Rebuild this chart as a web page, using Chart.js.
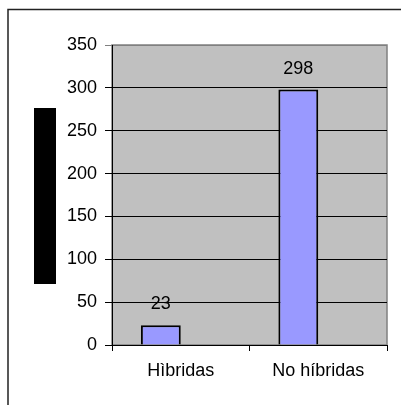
<!DOCTYPE html>
<html>
<head>
<meta charset="utf-8">
<script src="https://cdn.jsdelivr.net/npm/chart.js@4"></script>
<style>
	body { margin: 0; background: #fff; }
	canvas { display: block; }
</style>
</head>
<body>
<canvas id="bar-area" width="401" height="405"></canvas>
<script>
var categories = ['Hìbridas', 'No híbridas'];
var values = [23, 298];
var empty_series = [null, null];
var y_ticks = [0, 50, 100, 150, 200, 250, 300, 350];

var fontFamily = '"Liberation Sans", Arial, sans-serif';

// fondo gris, marco exterior y caja negra del titulo
var background_plugin = {
	id: 'background_plugin',
	beforeDraw: function(chart) {
		var ctx = chart.ctx;
		var a = chart.chartArea;
		ctx.save();
		ctx.fillStyle = '#fff';
		ctx.fillRect(0, 0, chart.width, chart.height);

		ctx.strokeStyle = '#222';
		ctx.lineWidth = 1.5;
		ctx.beginPath();
		ctx.moveTo(8, chart.height);
		ctx.lineTo(8, 9.5);
		ctx.lineTo(chart.width, 9.5);
		ctx.stroke();

		ctx.fillStyle = '#c0c0c0';
		ctx.fillRect(a.left, a.top, a.right - a.left, a.bottom - a.top);
		ctx.strokeStyle = '#808080';
		ctx.lineWidth = 1.5;
		ctx.strokeRect(a.left, a.top, a.right - a.left, a.bottom - a.top);

		ctx.fillStyle = '#000';
		ctx.fillRect(34, 108, 22, 176);
		ctx.restore();
	}
};

var value_labels = {
	id: 'value_labels',
	afterDatasetsDraw: function(chart) {
		var ctx = chart.ctx;
		var meta = chart.getDatasetMeta(0);
		ctx.save();
		ctx.font = '18px ' + fontFamily;
		ctx.fillStyle = '#000';
		ctx.textAlign = 'center';
		ctx.textBaseline = 'middle';
		for (var i = 0; i < meta.data.length; i++) {
			var bar = meta.data[i];
			ctx.fillText(values[i], bar.x, bar.y - 21);
		}
		ctx.restore();
	}
};

var config_bar = {
	type: 'bar',
	data: {
		labels: categories,
		datasets: [{
			data: values,
			backgroundColor: '#9999ff',
			borderColor: '#000',
			borderWidth: 2,
			barPercentage: 1,
			categoryPercentage: 0.58
		}, {
			data: empty_series,
			backgroundColor: '#993366',
			borderColor: '#000',
			borderWidth: 2,
			barPercentage: 1,
			categoryPercentage: 0.58
		}]
	},
	options: {
		responsive: false,
		animation: false,
		layout: {
			padding: { left: 0, right: 14, top: 45, bottom: 0 }
		},
		plugins: {
			legend: { display: false },
			tooltip: { enabled: false }
		},
		scales: {
			x: {
				afterFit: function(scale) { scale.height = 60; },
				grid: {
					offset: true,
					drawOnChartArea: false,
					color: '#000',
					tickLength: 6
				},
				border: { color: '#000', width: 1 },
				ticks: {
					color: '#000',
					padding: 9,
					font: { family: fontFamily, size: 18 }
				}
			},
			y: {
				min: 0,
				max: 350,
				afterFit: function(scale) { scale.width = 112; },
				afterBuildTicks: function(scale) {
					scale.ticks = y_ticks.map(function(v) { return { value: v }; });
				},
				grid: {
					color: function(c) { return c.tick && c.tick.value === 350 ? '#808080' : '#000'; },
					tickLength: 7
				},
				border: { color: '#000', width: 1 },
				ticks: {
					color: '#000',
					padding: 8,
					font: { family: fontFamily, size: 18 }
				}
			}
		}
	},
	plugins: [background_plugin, value_labels]
};

window.onload = function() {
	var ctx = document.getElementById('bar-area').getContext('2d');
	window.myBar = new Chart(ctx, config_bar);
};
</script>
</body>
</html>
